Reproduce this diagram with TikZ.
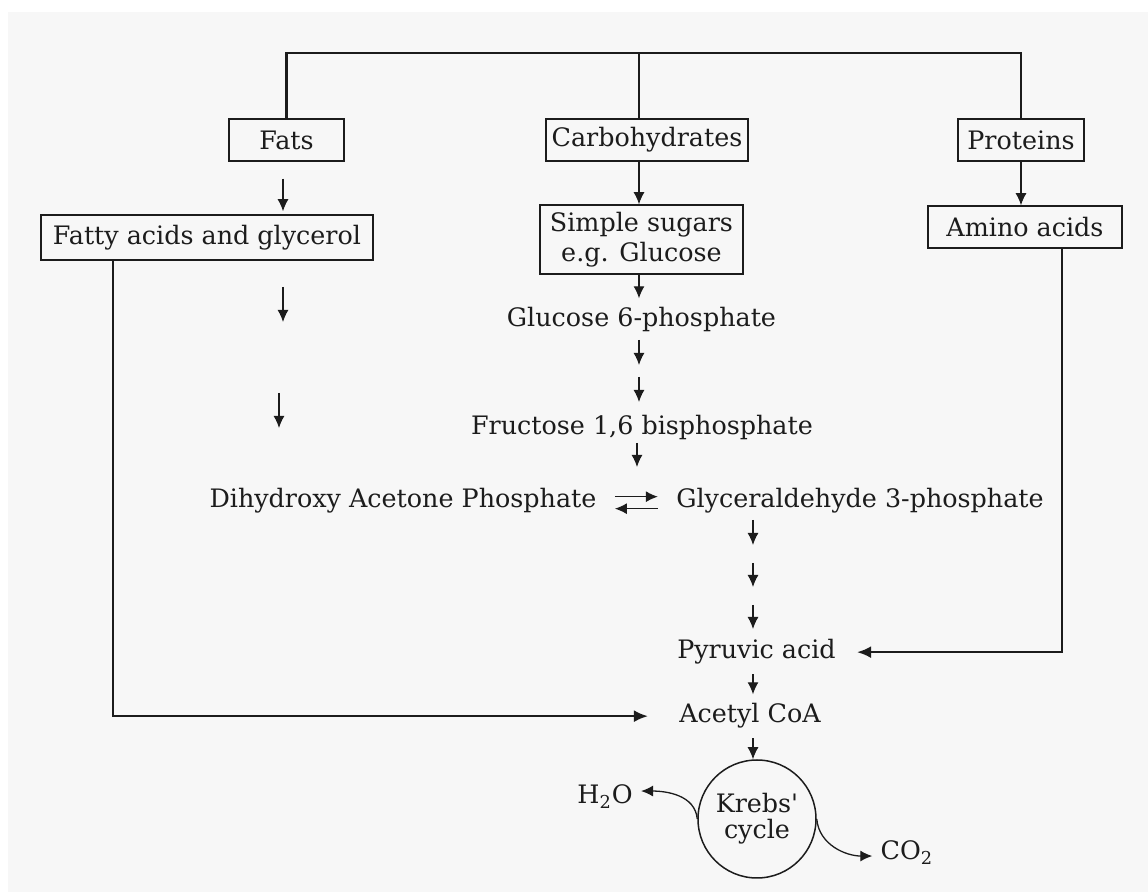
\documentclass[tikz,border=0pt]{standalone}
\usepackage{fontspec}
\usepackage{tikz}
\usetikzlibrary{arrows.meta}
\newfontfamily\diagfont{DejaVu Serif}
\definecolor{paper}{RGB}{247,247,247}
\definecolor{ink}{RGB}{28,28,28}

\begin{document}
\begin{tikzpicture}[x=0.5pt, y=-0.5pt, font=\diagfont\fontsize{12.7}{15}\selectfont, text=ink,
    box/.style={draw=ink, line width=0.75pt, inner sep=0pt, minimum height=21pt},
    lbl/.style={anchor=base, inner xsep=4pt, inner ysep=4.5pt},
    arr/.style={draw=ink, -{Latex[length=6pt,width=5.5pt]}, line width=0.65pt},
    link/.style={draw=ink, line width=1.1pt},
    bigarr/.style={-{Latex[length=7pt,width=6pt]}}]
    \fill[paper] (8,12) rectangle (1148,892);
    \useasboundingbox (0,0) rectangle (1148,892);

    \node[box, minimum width=57.5pt] (fats) at (286.5,140) {Fats};
    \node[box, minimum width=101pt] (carb) at (647,140) {Carbohydrates};
    \node[box, minimum width=63pt] (prot) at (1021,140) {Proteins};
    \node[box, minimum width=166pt, minimum height=22.5pt] (fatty) at (207,237.5) {Fatty acids and glycerol};
    \node[box, minimum width=101.5pt, minimum height=34.5pt, align=center] (sugar) at (641.5,239.5) {Simple sugars\\e.g. Glucose};
    \node[box, minimum width=97pt] (amino) at (1025,227) {Amino acids};

    \node[lbl] (g6p) at (641.5,327) {Glucose 6-phosphate};
    \node[lbl] (fbp) at (642,435) {Fructose 1,6 bisphosphate};
    \node[lbl] (dhap) at (403,507.5) {Dihydroxy Acetone Phosphate};
    \node[lbl] (g3p) at (860,507.5) {Glyceraldehyde 3-phosphate};
    \node[lbl] (pyr) at (756.5,659) {Pyruvic acid};
    \node[lbl] (acoa) at (750,723) {Acetyl CoA};
    \node[draw=ink, circle, line width=0.75pt, minimum size=59pt, inner sep=0pt, align=center,
      font=\diagfont\fontsize{12.7}{13}\selectfont] (krebs) at (757,819) {Krebs'\\cycle};
    \node[lbl] (water) at (605,804) {H\textsubscript{2}O};
    \node[lbl] (co2) at (907,860) {CO\textsubscript{2}};

    \coordinate (hub) at (639,53);
    \coordinate (lcol) at (283,0);
    \coordinate (gcol) at (753,0);

    \draw[link] (fats.north) |- (hub) -| (prot.north);
    \draw[link] (hub) -- (carb.north -| hub);

    \draw[arr] (carb.south -| hub) -- (sugar.north -| hub);
    \draw[arr] (prot.south) -- (amino.north -| prot.south);
    \draw[arr, shorten <=8.5pt, shorten >=1.5pt] (fats.south -| lcol) -- (fatty.north -| lcol);
    \draw[arr] (sugar.south -| hub) -- (g6p.north -| hub);
    \draw[arr] (pyr.south -| gcol) -- (acoa.north -| gcol);
    \draw[arr] (acoa.south -| gcol) -- (krebs.north -| gcol);

    \foreach \n/\x/\ya/\yb in {s1/283/287/322, s2/279/393/428, s3/639/340/365, s4/639/377/402,
        s5/637/443/467, s6/753/520/545, s7/753/563/587, s8/753/605/629} {
      \coordinate (\n-top) at (\x,\ya);
      \coordinate (\n-tip) at (\x,\yb);
      \draw[arr] (\n-top) -- (\n-tip);
    }

    \draw[arr, shorten <=5pt, shorten >=5pt] ([yshift=2pt]dhap.east) -- ([yshift=2pt]dhap.east -| g3p.west);
    \draw[arr, shorten <=5pt, shorten >=5pt] ([yshift=-4pt]dhap.east -| g3p.west) -- ([yshift=-4pt]dhap.east);

    \draw[link, bigarr, shorten >=6.5pt] ([xshift=18.5pt]amino.south) |- (pyr.east);
    \draw[link, bigarr, shorten >=11.5pt] ([xshift=-47pt]fatty.south) |- (acoa.west);

    \draw[arr] (krebs.west) to[out=95, in=0] ([yshift=3pt]water.east);
    \draw[arr] (krebs.east) to[out=-85, in=180] ([yshift=-1.5pt]co2.west);
\end{tikzpicture}
\end{document}
